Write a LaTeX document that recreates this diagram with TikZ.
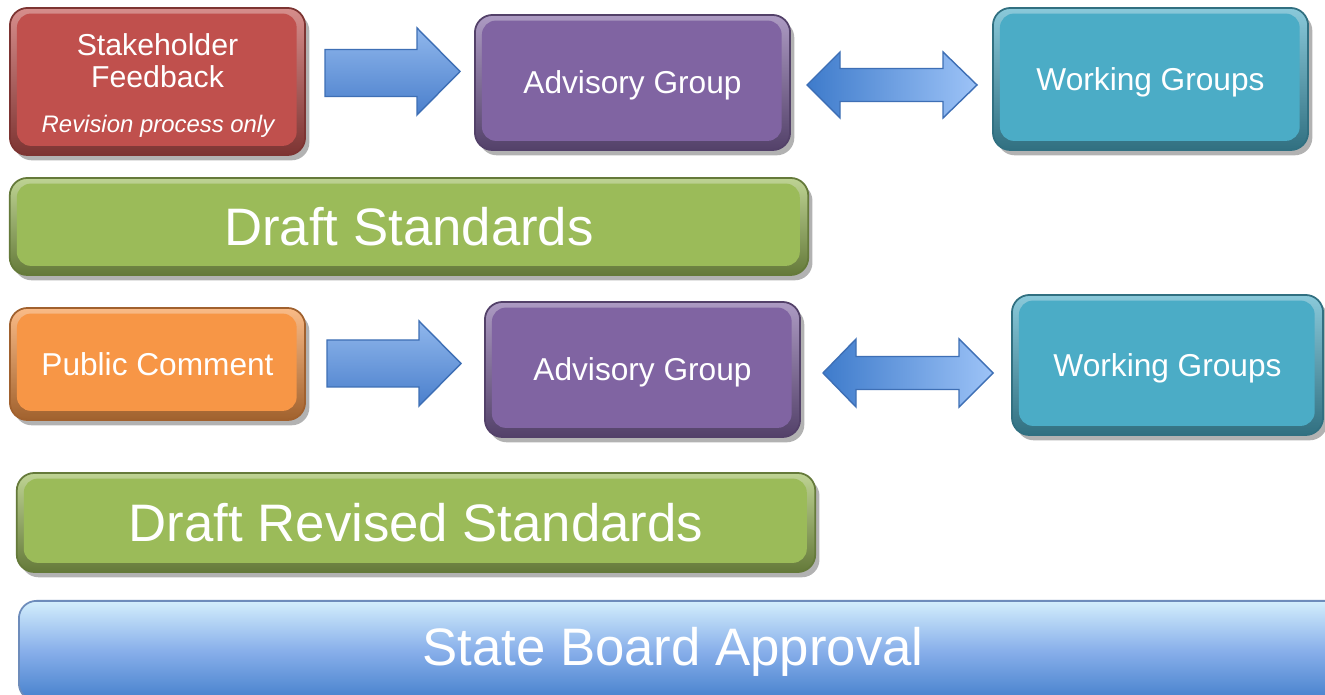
\documentclass[tikz,border=0pt]{standalone}
\usepackage{fontspec}
\setmainfont{Liberation Sans}
\usetikzlibrary{shadows}
\definecolor{cred}{HTML}{C0504D}
\definecolor{cpurple}{HTML}{8064A2}
\definecolor{cteal}{HTML}{4BACC6}
\definecolor{cgreen}{HTML}{9BBB59}
\definecolor{corange}{HTML}{F79646}
\definecolor{arrTop}{HTML}{90B7EC}
\definecolor{arrBot}{HTML}{4A7FCC}
\definecolor{arrEdge}{HTML}{3E6FB5}
\definecolor{dblL}{HTML}{3E7BCB}
\definecolor{dblR}{HTML}{9DC3F7}
\definecolor{sbTop}{HTML}{D3EEFC}
\definecolor{sbMid}{HTML}{88AFEA}
\definecolor{sbBot}{HTML}{4580CC}
\tikzset{
  bx/.style={rounded corners=5pt, text=white, align=center, text depth=0pt,
    draw=#1!65!black, line width=0.5pt,
    top color=#1!65!white, bottom color=#1!65!black,
    drop shadow={shadow xshift=1.2pt, shadow yshift=-1.5pt, opacity=0.3, fill=black},
    path picture={\fill[#1, rounded corners=4pt]
      ([shift={(2pt,-1.6pt)}]path picture bounding box.north west) rectangle
      ([shift={(-2.4pt,2.6pt)}]path picture bounding box.south east);},
    font=\fontsize{9}{10.8}\selectfont},
  big/.style={font=\fontsize{15}{18}\selectfont},
  lbl/.style={text=white, inner sep=0pt},
  sarrow/.style={top color=arrTop, bottom color=arrBot, draw=arrEdge, line width=0.4pt},
  darrow/.style={left color=dblL, right color=dblR, draw=arrEdge, line width=0.4pt},
}
\begin{document}
\begin{tikzpicture}[x=0.01cm,y=-0.01cm]
\clip (0,0) rectangle (1325,695);
\fill[white] (0,0) rectangle (1325,695);
% row 1
\node[bx=cred, minimum width=2.95cm, minimum height=1.47cm] (sh) at (157.5,81.5) {};
\node[lbl, font=\fontsize{8.6}{9}\selectfont] (sht1) at (157.5,45) {Stakeholder};
\node[lbl, font=\fontsize{8.6}{9}\selectfont] (sht2) at (157.5,77) {Feedback};
\node[lbl, font=\itshape\fontsize{6.8}{8}\selectfont] (sht3) at (158,126) {Revision process only};
\node[bx=cpurple, minimum width=3.15cm, minimum height=1.35cm] (ag1) at (632.5,82.5) {Advisory Group};
\node[bx=cteal, minimum width=3.15cm, minimum height=1.42cm] (wg1) at (1150.5,79) {Working Groups};
\node[bx=cgreen, big, minimum width=7.98cm, minimum height=0.97cm] (ds) at (409,226.5) {Draft Standards};
% row 2
\node[bx=corange, minimum width=2.95cm, minimum height=1.12cm] (pc) at (157.5,364) {Public Comment};
\node[bx=cpurple, minimum width=3.15cm, minimum height=1.35cm] (ag2) at (642.5,369.5) {Advisory Group};
\node[bx=cteal, minimum width=3.11cm, minimum height=1.40cm] (wg2) at (1167.5,365) {Working Groups};
\node[bx=cgreen, big, minimum width=7.98cm, minimum height=0.99cm] (dr) at (416,522.5) {Draft Revised Standards};
% state board
\node[rounded corners=5pt, draw=sbMid!80!black, line width=0.5pt, top color=sbTop, bottom color=sbBot, middle color=sbMid,
  drop shadow={shadow xshift=1.2pt, shadow yshift=-1.5pt, opacity=0.3, fill=black},
  minimum width=13.4cm, minimum height=1.0cm, anchor=north west] (sb) at (18,600) {};
\node[lbl, big] (sbt) at (673,652) {State Board Approval};
% arrows
\draw[sarrow] (325,49.5) -- (417,49.5) -- (417,28) -- (460,71.5) -- (417,115) -- (417,96.5) -- (325,96.5) -- cycle;
\draw[sarrow] (327,340) -- (419,340) -- (419,321) -- (461,363.5) -- (419,406) -- (419,387) -- (327,387) -- cycle;
\draw[darrow] (807,85) -- (840,52) -- (840,68.5) -- (943,68.5) -- (943,52) -- (977,85) -- (943,118) -- (943,101.5) -- (840,101.5) -- (840,118) -- cycle;
\draw[darrow] (823,373) -- (856,339) -- (856,356.5) -- (959,356.5) -- (959,339) -- (993,373) -- (959,407) -- (959,389.5) -- (856,389.5) -- (856,407) -- cycle;
\end{tikzpicture}
\end{document}
